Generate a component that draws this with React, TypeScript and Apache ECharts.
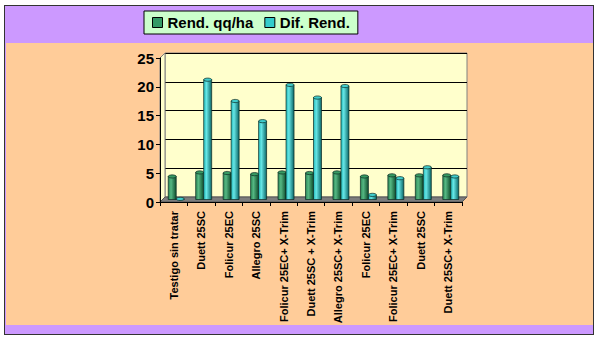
import React, { useEffect, useRef } from "react";
import * as echarts from "echarts";

const categories = [
  "Testigo sin tratar",
  "Duett 25SC",
  "Folicur 25EC",
  "Allegro 25SC",
  "Folicur 25EC+ X-Trim",
  "Duett 25SC + X-Trim",
  "Allegro 25SC+ X-Trim",
  "Folicur 25EC",
  "Folicur 25EC+ X-Trim",
  "Duett 25SC",
  "Duett 25SC+ X-Trim",
];
const rendValues = [4.0, 4.7, 4.6, 4.4, 4.7, 4.6, 4.7, 4.0, 4.2, 4.2, 4.2];
const difValues = [0.1, 20.8, 17.1, 13.6, 19.9, 17.7, 19.7, 0.8, 3.7, 5.6, 4.0];
const seriesNames = ["Rend. qq/ha", "Dif. Rend."];
const yTicks = { min: 0, max: 25, interval: 5 };

// layout / style
const FONT = "'Liberation Sans', Arial, sans-serif";
const LEFT = 160;
const TOP = 58;
const WIDTH = 302;
const HEIGHT = 144;
const DEPTH = 5;
const BAR_W = 8;

const palette = [
  { dark: "#0f4d2c", mid: "#2a8553", light: "#55b883", cap: "#379a62", legend: "#339966" },
  { dark: "#0b6666", mid: "#22b8b8", light: "#66e6e6", cap: "#40cccc", legend: "#33CCCC" },
];

function makeRender(s: number) {
  const c = palette[s];
  return (params: any, api: any) => {
    const i = api.value(0);
    const v = api.value(1);
    const p0 = api.coord([i, 0]);
    const p1 = api.coord([i, v]);
    const dx = DEPTH / 2;
    const x = p0[0] + dx + (s === 0 ? -BAR_W : 0);
    const yTop = p1[1] - dx;
    const yBot = p0[1] - dx;
    return {
      type: "group",
      children: [
        {
          type: "rect",
          shape: { x, y: yTop, width: BAR_W, height: Math.max(yBot - yTop, 0) },
          style: {
            fill: new echarts.graphic.LinearGradient(0, 0, 1, 0, [
              { offset: 0, color: c.mid },
              { offset: 0.35, color: c.light },
              { offset: 1, color: c.dark },
            ]),
            stroke: "#0a2a22",
            lineWidth: 0.7,
          },
        },
        {
          type: "ellipse",
          shape: { cx: x + BAR_W / 2, cy: yTop, rx: BAR_W / 2, ry: 1.6 },
          style: { fill: c.cap, stroke: "#0a2a22", lineWidth: 0.7 },
        },
      ],
    };
  };
}

export default function App() {
  const ref = useRef<HTMLDivElement>(null);
  useEffect(() => {
    document.body.style.margin = "0";
    if (!ref.current) return;
    const chart = echarts.init(ref.current, undefined, { renderer: "svg" });
    const right = LEFT + WIDTH;
    const bottom = TOP + HEIGHT;
    chart.setOption({
      animation: false,
      textStyle: { fontFamily: FONT },
      legend: {
        left: 144,
        top: 11,
        padding: [4, 8],
        itemWidth: 10,
        itemHeight: 10,
        itemGap: 11,
        icon: "rect",
        backgroundColor: "#CCFFCC",
        borderColor: "#000",
        borderWidth: 1,
        itemStyle: { borderColor: "#000", borderWidth: 1 },
        textStyle: { fontFamily: FONT, fontWeight: "bold", fontSize: 15, color: "#000" },
        data: seriesNames,
      },
      grid: [
        {
          left: LEFT + DEPTH,
          top: TOP - DEPTH,
          width: WIDTH,
          height: HEIGHT,
          show: true,
          backgroundColor: "#FFFFCC",
          borderColor: "#808080",
          borderWidth: 1,
        },
        { left: LEFT, top: TOP, width: WIDTH, height: HEIGHT },
      ],
      xAxis: [
        {
          gridIndex: 0,
          type: "category",
          data: categories,
          show: false,
        },
        {
          gridIndex: 1,
          type: "category",
          data: categories,
          z: 5,
          axisLine: { lineStyle: { color: "#000", width: 1 } },
          axisTick: { show: true, length: 4, alignWithLabel: false, lineStyle: { color: "#000" } },
          axisLabel: {
            rotate: 90,
            interval: 0,
            margin: 9,
            fontSize: 11,
            fontWeight: "bold",
            color: "#000",
            fontFamily: FONT,
          },
        },
      ],
      yAxis: [
        {
          gridIndex: 0,
          type: "value",
          ...yTicks,
          axisLine: { show: false },
          axisTick: { show: false },
          axisLabel: { show: false },
          splitLine: { show: true, lineStyle: { color: "#000", width: 1 } },
        },
        {
          gridIndex: 1,
          type: "value",
          ...yTicks,
          z: 5,
          axisLine: { show: true, lineStyle: { color: "#000", width: 1 } },
          axisTick: { show: true, length: 4, lineStyle: { color: "#000" } },
          axisLabel: {
            margin: 6,
            fontSize: 15,
            fontWeight: "bold",
            color: "#000",
            fontFamily: FONT,
          },
          splitLine: { show: false },
        },
      ],
      graphic: [
        {
          type: "polygon",
          z: 1,
          shape: {
            points: [
              [LEFT, TOP],
              [LEFT + DEPTH, TOP - DEPTH],
              [LEFT + DEPTH, bottom - DEPTH],
              [LEFT, bottom],
            ],
          },
          style: { fill: "#FFFFCC", stroke: "#808080", lineWidth: 1 },
        },
        {
          type: "polygon",
          z: 1,
          shape: {
            points: [
              [LEFT, bottom],
              [LEFT + DEPTH, bottom - DEPTH],
              [right + DEPTH, bottom - DEPTH],
              [right, bottom],
            ],
          },
          style: { fill: "#7d7d7d", stroke: "#555", lineWidth: 1 },
        },
      ],
      series: [
        {
          name: seriesNames[0],
          type: "custom",
          xAxisIndex: 1,
          yAxisIndex: 1,
          z: 3,
          itemStyle: { color: palette[0].legend },
          renderItem: makeRender(0),
          data: rendValues.map((v, i) => [i, v]),
          clip: false,
        },
        {
          name: seriesNames[1],
          type: "custom",
          xAxisIndex: 1,
          yAxisIndex: 1,
          z: 3,
          itemStyle: { color: palette[1].legend },
          renderItem: makeRender(1),
          data: difValues.map((v, i) => [i, v]),
          clip: false,
        },
      ],
    });
    return () => chart.dispose();
  }, []);

  return (
    <div style={{ position: "relative", width: 600, height: 341, background: "#fff", overflow: "hidden" }}>
      <div
        style={{
          position: "absolute",
          left: 4,
          top: 5,
          width: 588,
          height: 328,
          border: "1.5px solid #333",
          background: "#CC99FF",
          boxSizing: "content-box",
        }}
      />
      <div
        style={{
          position: "absolute",
          left: 6,
          top: 43,
          width: 587,
          height: 282,
          background: "#FFCC99",
        }}
      />
      <div ref={ref} style={{ position: "absolute", left: 0, top: 0, width: 600, height: 341 }} />
    </div>
  );
}
